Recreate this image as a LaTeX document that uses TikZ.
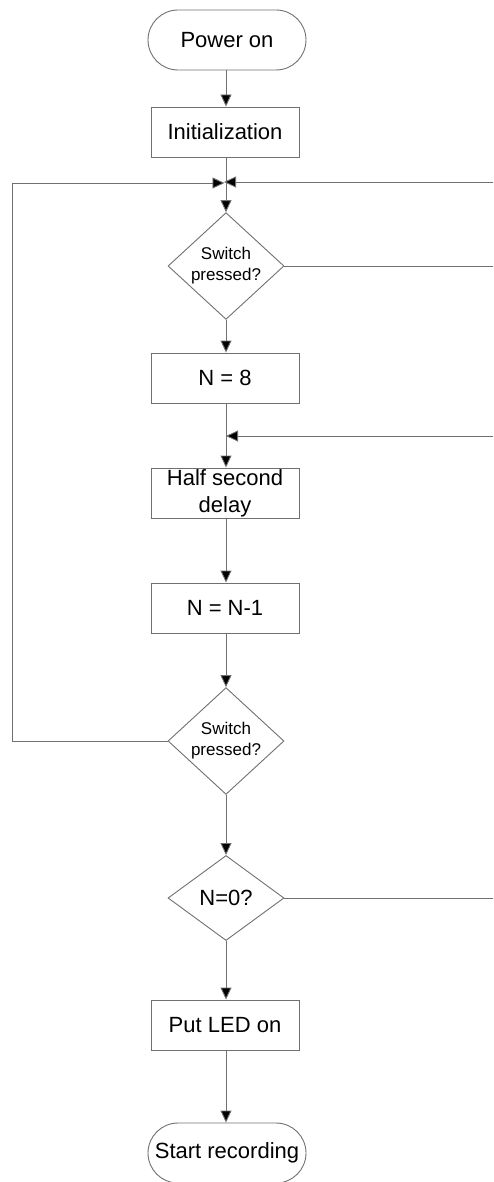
\documentclass[tikz,border=0pt]{standalone}
\usepackage{fontspec}
\setmainfont{Liberation Sans}
\usetikzlibrary{shapes.geometric,shapes.misc,arrows.meta}
\definecolor{lc}{RGB}{112,112,112}
\tikzset{
  base/.style={draw=lc, line width=0.9pt, text=black, inner sep=0pt, align=center},
  term/.style={base, rounded rectangle, minimum width=158pt, minimum height=60pt, font=\fontsize{22pt}{27pt}\selectfont},
  proc/.style={base, rectangle, minimum width=148pt, minimum height=50pt, font=\fontsize{22pt}{27pt}\selectfont},
  dec/.style={base, diamond, minimum width=116pt, minimum height=85pt},
  conn/.style={draw=lc, line width=0.9pt},
  arr/.style={conn, -{Triangle[width=11pt,length=12pt,fill=black]}}
}
\begin{document}
\begin{tikzpicture}[x=1pt,y=-1pt]
\useasboundingbox (0,0) rectangle (493,1182);
\node[term] (start) at (227,40) {Power on};
\node[proc] (init) at (225,132) {Initialization};
\coordinate (j1) at (226,183);
\node[dec, font=\fontsize{17pt}{21pt}\selectfont] (d1) at (226,266) {Switch\\pressed?};
\node[proc] (n8) at (225,378) {N = 8};
\coordinate (j2) at (226,436);
\node[proc] (delay) at (225,493) {Half second\\delay};
\node[proc] (decr) at (225,608) {N = N-1};
\node[dec, font=\fontsize{17pt}{21pt}\selectfont] (d2) at (226,741) {Switch\\pressed?};
\node[dec, font=\fontsize{22pt}{27pt}\selectfont] (d3) at (226,898) {N=0?};
\node[proc] (led) at (225,1025) {Put LED on};
\node[term] (stop) at (227,1153) {Start recording};
\coordinate (r1) at (493,182);
\coordinate (r2) at (493,266);
\coordinate (r3) at (493,436);
\coordinate (r4) at (493,898);
\coordinate (l1) at (12,741);
\coordinate (l2) at (12,183);
% main flow
\draw[arr] (start.south -| j1) -- (init.north -| j1);
\draw[conn] (init.south -| j1) -- (j1);
\draw[arr] (j1) -- (d1.north);
\draw[arr] (d1.south) -- (n8.north -| d1.south);
\draw[conn] (n8.south -| j2) -- (j2);
\draw[arr] (j2) -- (delay.north -| j2);
\draw[arr] (delay.south -| j2) -- (decr.north -| j2);
\draw[arr] (decr.south -| j2) -- (d2.north);
\draw[arr] (d2.south) -- (d3.north);
\draw[arr] (d3.south) -- (led.north -| d3.south);
\draw[arr] (led.south -| d3.south) -- (stop.north -| d3.south);
% loops
\draw[arr, shorten >=1.5pt] (d2.west) -- (l1) -- (l2) -- (j1);
\draw[arr, shorten >=-2pt] (r1) -- (r1 -| j1);
\draw[conn] (d1.east) -- (r2);
\draw[arr] (r3) -- (j2);
\draw[conn] (d3.east) -- (r4);
\end{tikzpicture}
\end{document}
